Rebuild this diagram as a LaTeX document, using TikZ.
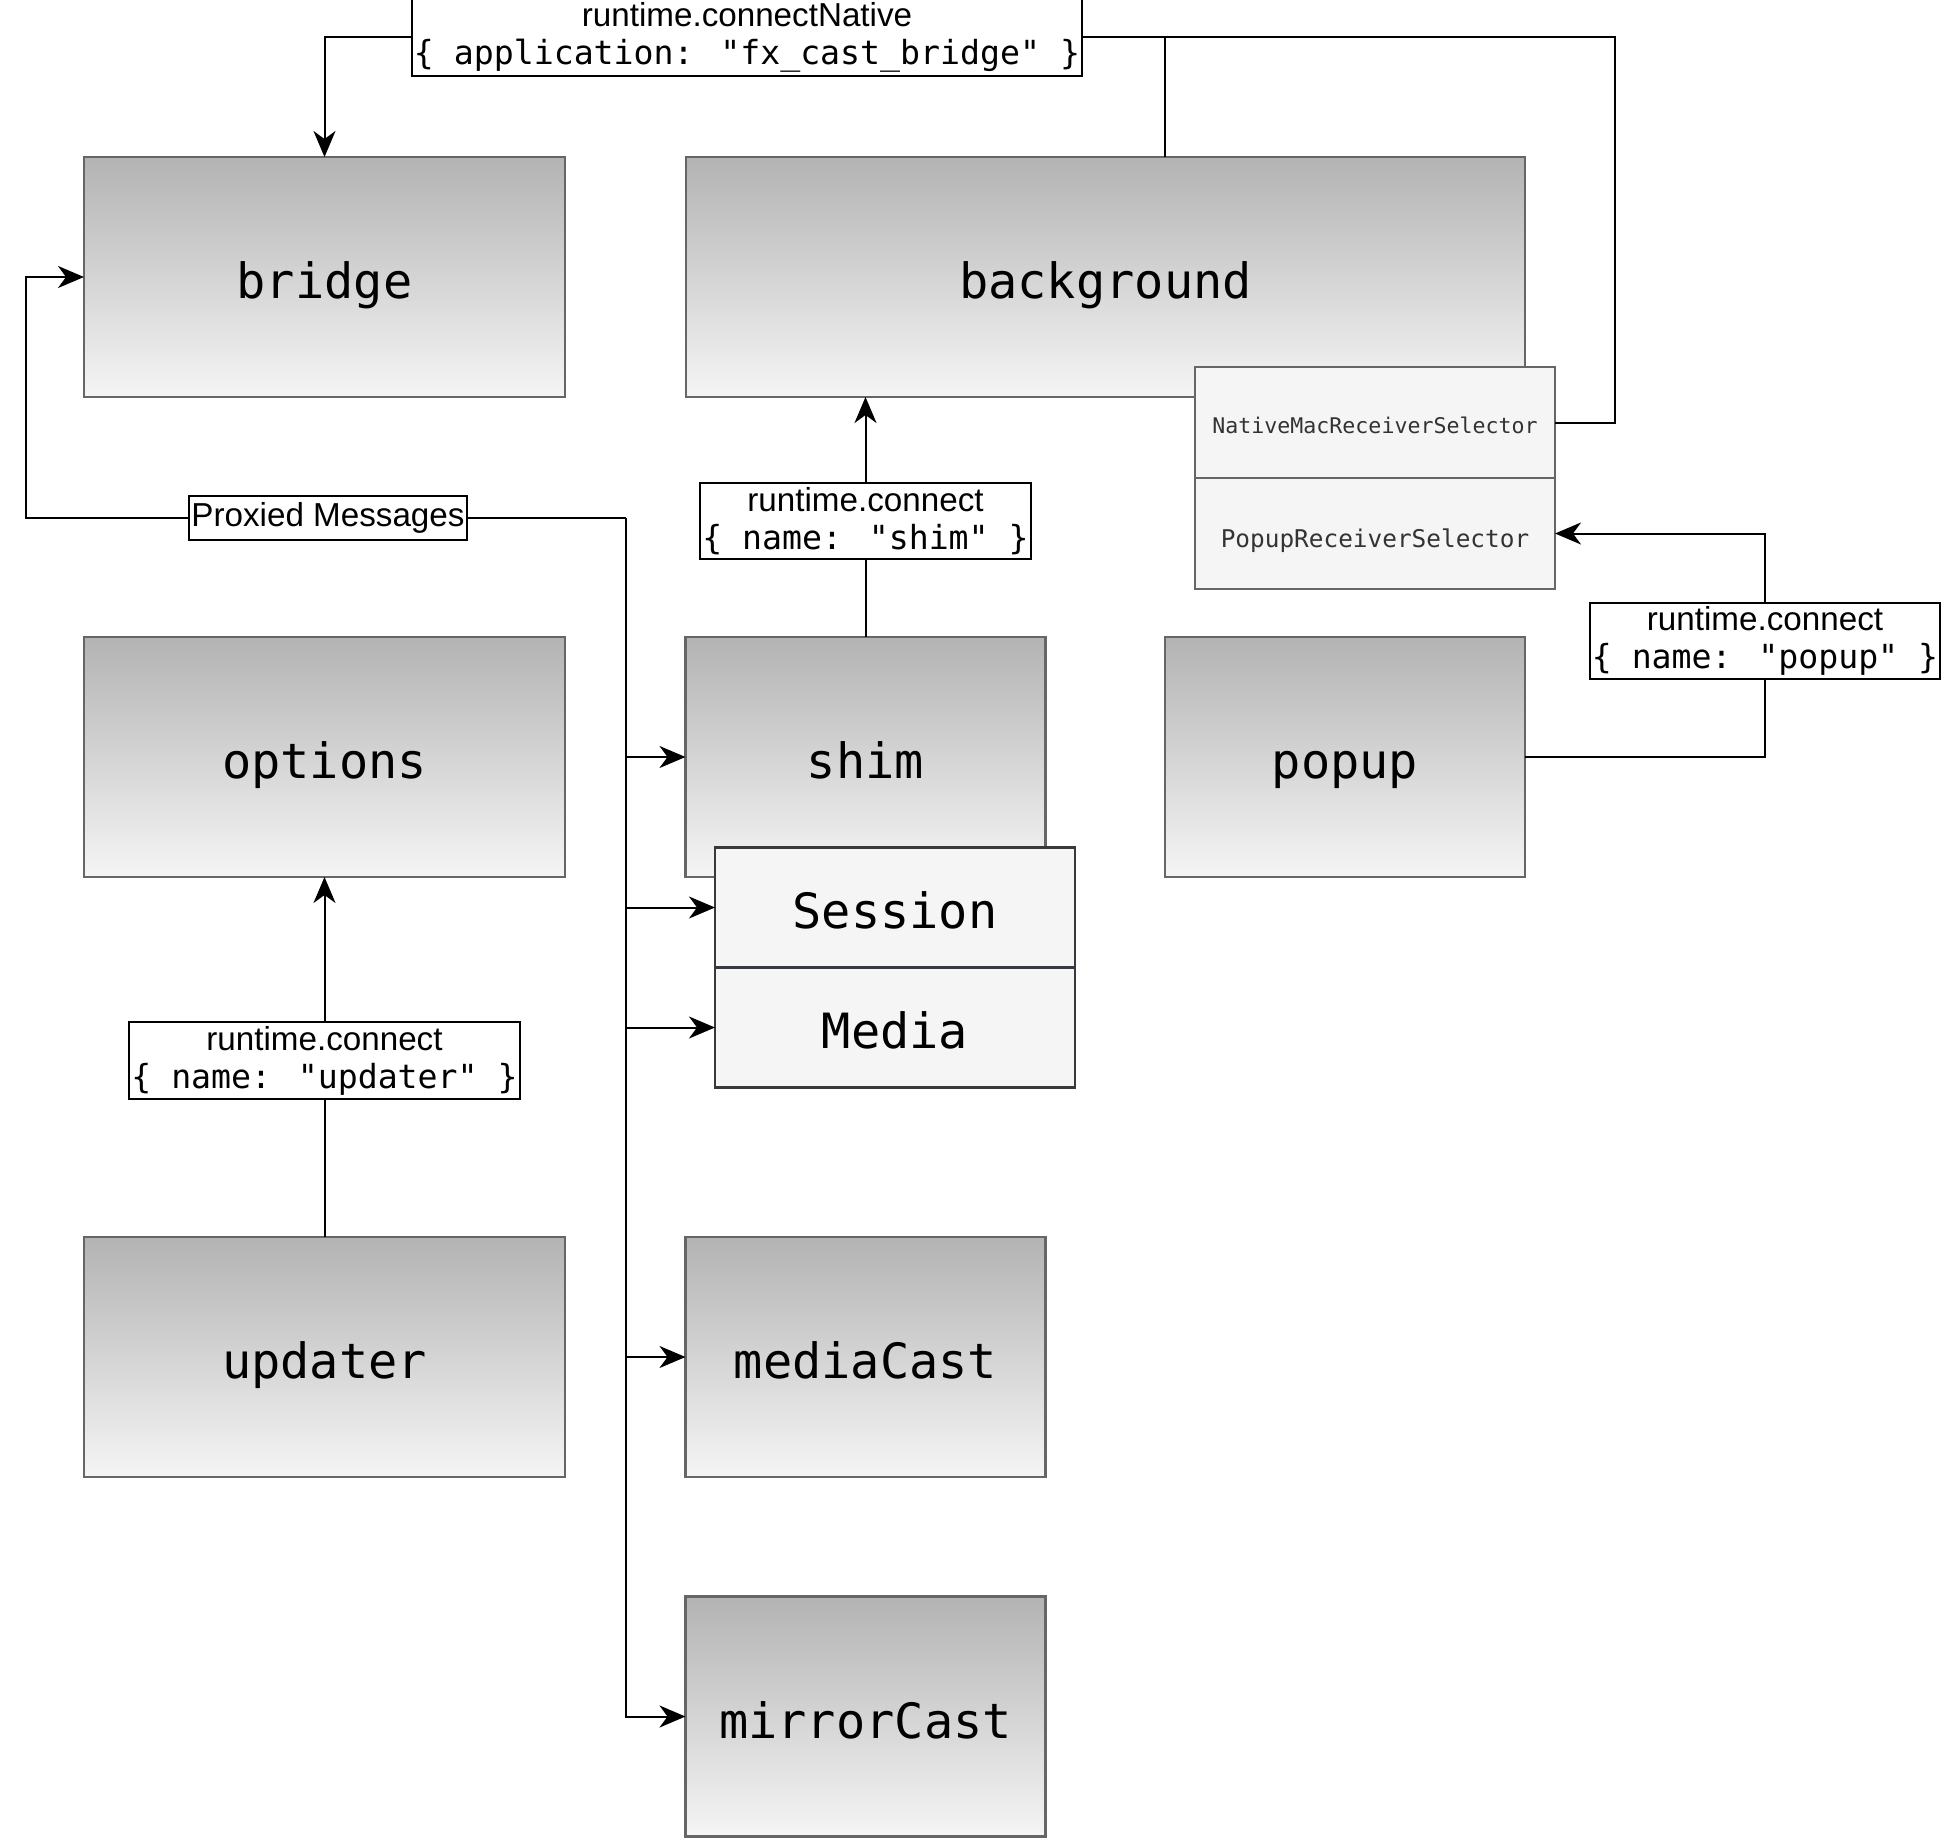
\documentclass[tikz,border=0pt]{standalone}
\usepackage{fontspec}
\setmainfont{Liberation Sans}
\newfontfamily\codefont{DejaVu Sans Mono}
\usetikzlibrary{arrows.meta}
\definecolor{shadetop}{HTML}{B3B3B3}
\definecolor{shadebot}{HTML}{F5F5F5}
\definecolor{boxline}{HTML}{666666}
\definecolor{partline}{HTML}{36393D}
\definecolor{parttext}{HTML}{333333}
\begin{document}
\begin{tikzpicture}[x=0.5pt,y=-0.5pt,
comp/.style={draw=boxline,line width=1.2pt,top color=shadetop,bottom color=shadebot,inner sep=0pt,outer sep=0pt,minimum height=120pt,text height=21.5pt,text depth=0pt,font=\codefont\fontsize{24.3}{29}\selectfont},
wide/.style={comp,minimum width=240.5pt},
narrow/.style={comp,minimum width=180pt},
part/.style={draw=partline,line width=1.2pt,fill=shadebot,inner sep=0pt,outer sep=0pt,minimum width=180pt,minimum height=60pt,text height=21pt,text depth=0pt,font=\codefont\fontsize{24.3}{29}\selectfont},
sel/.style={draw=boxline,line width=1.2pt,fill=shadebot,text=parttext,inner sep=0pt,outer sep=0pt,minimum width=180pt,minimum height=55.5pt,text depth=0pt},
msg/.style={draw,fill=white,line width=1pt,inner xsep=1pt,inner ysep=2pt,outer sep=0pt,align=center,font=\fontsize{16.6}{19}\selectfont},
conn/.style={line width=1pt},
arr/.style={conn,-{Stealth[length=13pt,width=11pt,inset=4pt]}}]
\useasboundingbox (0,0) rectangle (1944,1842);
\node[wide] (bridge) at (324.5,277) {bridge};
\node[comp,minimum width=419.5pt] (background) at (1105.5,277) {background};
\node[sel,text height=10.5pt,font=\codefont\fontsize{10.8}{13}\selectfont] (nms) at (1375,422.5) {NativeMacReceiverSelector};
\node[sel,text height=13.5pt,font=\codefont\fontsize{12.2}{14}\selectfont] (prs) at (1375,533.5) {PopupReceiverSelector};
\node[wide] (options) at (324.5,757) {options};
\node[narrow] (shim) at (865.5,757) {shim};
\node[narrow] (popup) at (1345,757) {popup};
\node[part] (session) at (895,907.5) {Session};
\node[part] (media) at (895,1027.5) {Media};
\node[wide] (updater) at (324.5,1357) {updater};
\node[narrow] (mediacast) at (865.5,1357) {mediaCast};
\node[narrow] (mirrorcast) at (865.5,1716.5) {mirrorCast};
\node[msg] (nativelbl) at (747,37) {runtime.connectNative\\{\codefont\{ application: "fx\_cast\_bridge" \}}};
\node[msg] (shimlbl) at (865.5,521) {runtime.connect\\{\codefont\{ name: "shim" \}}};
\node[msg] (updlbl) at (324.5,1060.5) {runtime.connect\\{\codefont\{ name: "updater" \}}};
\node[msg] (poplbl) at (1765,641) {runtime.connect\\{\codefont\{ name: "popup" \}}};
\node[msg,minimum height=22pt] (proxlbl) at (328,518) {Proxied Messages};
\coordinate (proxturn) at (26,277);
\coordinate (bus) at (626,518);
\draw[arr] (nativelbl.west) -| (bridge.north);
\draw[conn] (nms.east) -- ++(30pt,0) |- (nativelbl.east);
\draw[conn] (background.north -| popup.west) -- (popup.west |- nativelbl.east);
\draw[arr] (proxlbl.west) -| (proxturn) -- (bridge.west);
\draw[conn] (proxlbl.east) -- (bus);
\foreach \dest in {shim,session,media,mediacast,mirrorcast}
  \draw[arr] (bus) |- (\dest.west);
\draw[conn] (shim.north) -- (shimlbl.south);
\draw[arr] (shimlbl.north) -- (shimlbl.north |- background.south);
\draw[conn] (updater.north) -- (updlbl.south);
\draw[arr] (updlbl.north) -- (options.south);
\draw[conn] (popup.east) -| (poplbl.south);
\draw[arr] (poplbl.north) |- (prs.east);
\end{tikzpicture}
\end{document}
